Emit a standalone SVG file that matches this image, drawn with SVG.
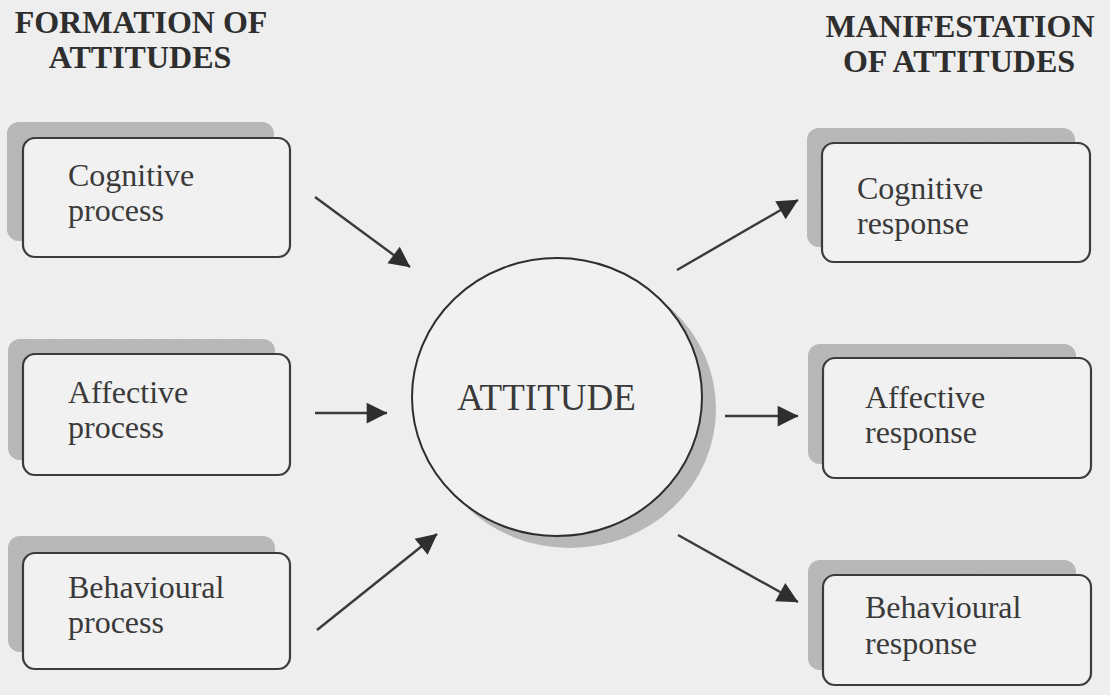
<svg xmlns="http://www.w3.org/2000/svg" width="1110" height="695" viewBox="0 0 1110 695">
  <defs>
    <style>
      .head { font-family: "Liberation Serif", "Times New Roman", serif; font-weight: bold; font-size: 32px; fill: #2e2e2e; text-anchor: middle; }
      .lbl { font-family: "Liberation Serif", "Times New Roman", serif; font-size: 32px; fill: #3a3a3a; }
      .core { font-family: "Liberation Serif", "Times New Roman", serif; font-size: 37px; fill: #3a3a3a; }
      .shadow { fill: #b5b5b5; }
      .box { fill: #f1f1f1; stroke: #3c3c3c; stroke-width: 2.2; }
      .link { stroke: #3a3a3a; stroke-width: 2.4; fill: none; marker-end: url(#head); }
    </style>
    <marker id="head" viewBox="0 0 10 10" refX="9" refY="5" markerWidth="9" markerHeight="9" markerUnits="userSpaceOnUse" orient="auto" overflow="visible">
      <path d="M0,0 L10,5 L0,10 z" fill="#2e2e2e" transform="scale(2.3) translate(-5.9,-2.8)"/>
    </marker>
    <filter id="grain" x="0" y="0" width="100%" height="100%">
      <feTurbulence type="fractalNoise" baseFrequency="0.9" numOctaves="2" seed="3" result="n"/>
      <feColorMatrix in="n" type="matrix" values="0 0 0 0 0.55  0 0 0 0 0.55  0 0 0 0 0.55  0 0 0 0.35 0" result="speck"/>
      <feComposite in="speck" in2="SourceGraphic" operator="in" result="sp"/>
      <feMerge><feMergeNode in="SourceGraphic"/><feMergeNode in="sp"/></feMerge>
    </filter>
  </defs>

  <rect width="1110" height="695" fill="#eeeeee"/>

  <!-- column headings -->
  <g id="heading-formation">
    <text class="head" x="141" y="33">FORMATION OF</text>
    <text class="head" x="140" y="68">ATTITUDES</text>
  </g>
  <g id="heading-manifestation">
    <text class="head" x="960" y="37">MANIFESTATION</text>
    <text class="head" x="959" y="72">OF ATTITUDES</text>
  </g>

  <!-- formation nodes -->
  <g id="cognitive-process">
    <rect class="shadow" filter="url(#grain)" x="7" y="122" width="267" height="119" rx="12"/>
    <rect class="box" x="23" y="138" width="267" height="119" rx="12"/>
    <text class="lbl" x="68" y="186">Cognitive</text>
    <text class="lbl" x="68" y="221">process</text>
  </g>
  <g id="affective-process">
    <rect class="shadow" filter="url(#grain)" x="8" y="339" width="267" height="121" rx="12"/>
    <rect class="box" x="23" y="354" width="267" height="121" rx="12"/>
    <text class="lbl" x="68" y="403">Affective</text>
    <text class="lbl" x="68" y="438">process</text>
  </g>
  <g id="behavioural-process">
    <rect class="shadow" filter="url(#grain)" x="8" y="536" width="267" height="116" rx="12"/>
    <rect class="box" x="23" y="553" width="267" height="116" rx="12"/>
    <text class="lbl" x="68" y="598">Behavioural</text>
    <text class="lbl" x="68" y="633">process</text>
  </g>

  <!-- central node -->
  <g id="attitude">
    <ellipse class="shadow" filter="url(#grain)" cx="570" cy="409" rx="146" ry="139"/>
    <ellipse fill="#f1f1f1" stroke="#2e2e2e" stroke-width="2" cx="557" cy="397" rx="145" ry="139"/>
    <text class="core" x="457" y="410">ATTITUDE</text>
  </g>

  <!-- manifestation nodes -->
  <g id="cognitive-response">
    <rect class="shadow" filter="url(#grain)" x="807" y="128" width="268" height="119" rx="12"/>
    <rect class="box" x="822" y="143" width="268" height="119" rx="12"/>
    <text class="lbl" x="857" y="199">Cognitive</text>
    <text class="lbl" x="857" y="234">response</text>
  </g>
  <g id="affective-response">
    <rect class="shadow" filter="url(#grain)" x="808" y="344" width="268" height="120" rx="12"/>
    <rect class="box" x="823" y="358" width="268" height="120" rx="12"/>
    <text class="lbl" x="865" y="408">Affective</text>
    <text class="lbl" x="865" y="443">response</text>
  </g>
  <g id="behavioural-response">
    <rect class="shadow" filter="url(#grain)" x="808" y="560" width="268" height="110" rx="12"/>
    <rect class="box" x="823" y="575" width="268" height="110" rx="12"/>
    <text class="lbl" x="865" y="618">Behavioural</text>
    <text class="lbl" x="865" y="654">response</text>
  </g>

  <!-- connectors -->
  <g id="connectors">
    <line class="link" x1="315" y1="197" x2="410" y2="267"/>
    <line class="link" x1="315" y1="413" x2="387" y2="413"/>
    <line class="link" x1="317" y1="630" x2="437" y2="534"/>
    <line class="link" x1="677" y1="270" x2="798" y2="200"/>
    <line class="link" x1="725" y1="416" x2="798" y2="416"/>
    <line class="link" x1="678" y1="535" x2="798" y2="602"/>
  </g>
</svg>
